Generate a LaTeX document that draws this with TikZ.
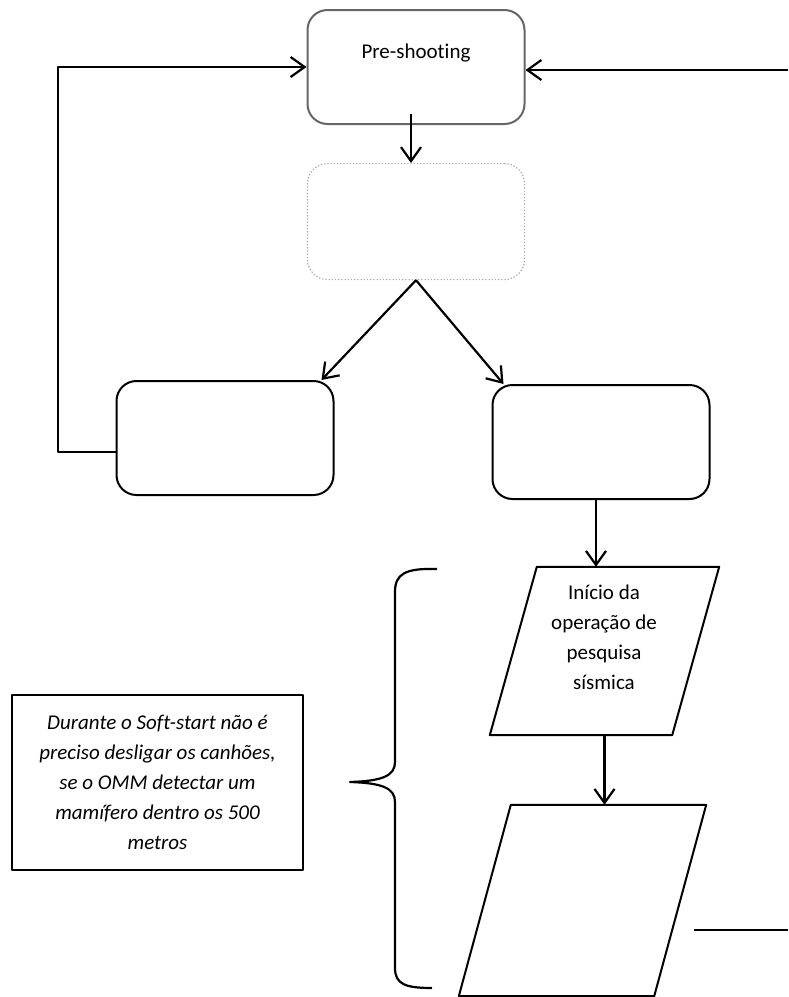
\documentclass[tikz,border=0pt]{standalone}
\usepackage{fontspec}
\setmainfont{Carlito}[Ligatures=NoCommon]
\usetikzlibrary{positioning,arrows.meta}

\begin{document}
\begin{tikzpicture}[x=1pt, y=-1pt, line join=round,
    stepbox/.style={rectangle, rounded corners=20pt, draw=black, line width=2pt, minimum width=217pt, minimum height=114pt},
    greybox/.style={stepbox, draw=black!60},
    ghostbox/.style={stepbox, draw=black!35, line width=1.2pt, dotted, minimum height=116pt},
    iobox/.style={rectangle, inner sep=0pt},
    outline/.style={draw=black, line width=2pt},
    notebox/.style={rectangle, draw=black, line width=2pt, minimum width=291pt, minimum height=175pt, align=center, font=\fontsize{21}{30}\selectfont\itshape},
    flow/.style={-{Straight Barb[length=14pt,width=20pt]}, line width=2.2pt},
    txt/.style={align=center, font=\fontsize{21}{30}\selectfont},]
    \useasboundingbox (0,0) rectangle (788,997);
    % nodes
    \node[greybox]   (pre)      at (416,67)              {};
    \node[txt]       (preTxt)   at (416,53)              {Pre-shooting};
    \node[ghostbox]  (blank)    [below=38pt of pre]      {};
    \node[stepbox]   (left)     at (225,438)             {};
    \node[stepbox]   (right)    at (601,442)             {};
    \node[iobox, minimum width=229pt, minimum height=168pt] (start) at (604.5,651)   {};
    \node[txt]       (startTxt) at (604,637)             {Início da\\operação de\\pesquisa\\sísmica};
    \node[iobox, minimum width=247pt, minimum height=191pt] (soft)  at (582.5,900.5) {};
    \node[notebox]   (note)     at (157.5,782.5)         {Durante o Soft-start não é\\preciso desligar os canhões,\\se o OMM detectar um\\mamífero dentro os 500\\metros};
    \coordinate (loopL) at (58,67);
    \coordinate (inR)   at (788,70);
    \coordinate (outA)  at (694,930);
    \coordinate (outB)  at (788,930);
    % parallelograms
    \foreach \n/\s in {start/47, soft/52}
        \draw[outline] ([xshift=\s pt]\n.north west) -- (\n.north east) -- ([xshift=-\s pt]\n.south east) -- (\n.south west) -- cycle;
    % lines
    \draw[flow] ([xshift=-5pt,yshift=11pt]pre.south) -- ([xshift=-5pt]blank.north);
    \draw[flow] (blank.south) -- ([xshift=-13pt]left.north east);
    \draw[flow] (blank.south) -- ([xshift=12pt]right.north west);
    \draw[flow] ([yshift=-14pt]left.west) -| (loopL) -- (pre.west);
    \draw[flow] (inR) -- (inR -| pre.east);
    \draw[flow] ([xshift=-5pt]right.south) -- ([xshift=-5pt]right.south |- start.north);
    \draw[flow] (start.south) -- (start.south |- soft.north);
    \draw[line width=2.2pt] (outA) -- (outB);
    % brace
    \draw[line width=2.2pt] (437,569) .. controls (405,568) and (395,574) .. (395,592) -- (395,762)
        .. controls (395,776) and (382,781) .. (350,782) .. controls (382,783) and (395,788) .. (395,802)
        -- (395,968) .. controls (395,984) and (405,988) .. (432,988);
\end{tikzpicture}
\end{document}
